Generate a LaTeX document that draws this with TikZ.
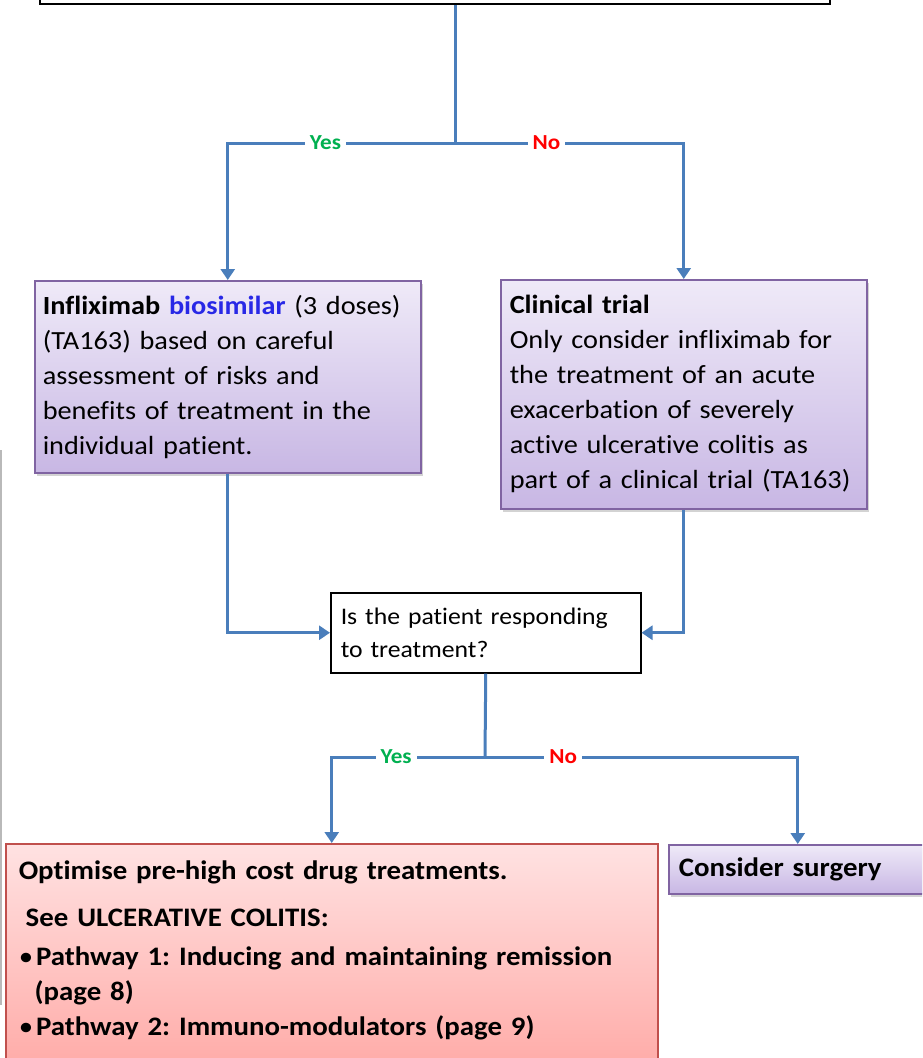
\documentclass[tikz,border=0pt]{standalone}
\usepackage{fontspec}
\setmainfont{Carlito}[FakeStretch=1.08, Ligatures=NoCommon]
\usepackage{tikz}
\usetikzlibrary{arrows.meta,shadows}

\definecolor{flowblue}{RGB}{74,126,187}
\definecolor{lilacline}{RGB}{128,100,162}
\definecolor{lilactop}{RGB}{239,234,248}
\definecolor{lilacbot}{RGB}{200,183,228}
\definecolor{roseline}{RGB}{192,80,77}
\definecolor{rosetop}{RGB}{255,226,226}
\definecolor{rosebot}{RGB}{255,160,156}
\definecolor{yesgreen}{RGB}{0,176,80}
\definecolor{biosim}{RGB}{40,40,230}

\begin{document}
\frenchspacing
\begin{tikzpicture}[x=1pt, y=-1pt,
	every node/.style={font=\fontsize{26.2}{35}\selectfont, align=left},
	>={Triangle[length=11pt, width=14pt]},
	flow/.style={flowblue, line width=3pt},
	lilac/.style={draw=lilacline, line width=1.5pt, top color=lilactop, bottom color=lilacbot,
		drop shadow={opacity=0.35, shadow xshift=2pt, shadow yshift=-3pt}},
	rose/.style={draw=roseline, line width=1.5pt, top color=rosetop, bottom color=rosebot},
	plain/.style={draw=black, line width=2pt, fill=white},
	yeslab/.style={fill=white, text=yesgreen, inner xsep=5pt, inner ysep=1pt, font=\fontsize{21.4}{21.4}\selectfont\bfseries},
	nolab/.style={yeslab, text=red}]
	\path[use as bounding box, clip] (0,0) rectangle (922,1058);
	\draw[gray!55, line width=1.2pt] (1,450) -- (1,1005);
	% boxes
	\node[plain, anchor=south, minimum width=790, minimum height=60] (eligible) at (435,5) {};
	\node[lilac, anchor=north west, minimum height=192, text width=370, inner xsep=8] (infl) at (34,280)
		{\textbf{Infliximab} \textbf{\textcolor{biosim}{biosimilar}} (3 doses)\\
		(TA163) based on careful\\
		assessment of risks and\\
		benefits of treatment in the\\
		individual patient.};
	\node[lilac, anchor=north west, minimum height=229, text width=348, inner xsep=9] (trial) at (500,279)
		{\textbf{Clinical trial}\\
		Only consider infliximab for\\
		the treatment of an acute\\
		exacerbation of severely\\
		active ulcerative colitis as\\
		part of a clinical trial (TA163)};
	\node[plain, line width=1.5pt, anchor=north west, minimum height=80, text width=290, inner xsep=10,
		font=\fontsize{23.8}{33}\selectfont] (response) at (330,592)
		{Is the patient responding\\
		to treatment?};
	\node[rose, anchor=north west, text width=626, inner xsep=13, inner ysep=17,
		font=\fontsize{26.7}{35}\selectfont\bfseries] (optimise) at (5,843)
		{Optimise pre-high cost drug treatments.\\[12pt]
		\hspace*{7pt}See ULCERATIVE COLITIS:\\[4pt]
		{\mdseries\textbullet}\hspace{3pt}Pathway 1: Inducing and maintaining remission\\
		\hspace*{16pt}(page 8)\\
		{\mdseries\textbullet}\hspace{3pt}Pathway 2: Immuno-modulators (page 9)\rule[-60pt]{0pt}{1pt}};
	\node[lilac, anchor=north west, minimum height=49, text width=238, inner xsep=10,
		font=\fontsize{26.7}{30}\selectfont\bfseries] (surgery) at (668,844) {Consider surgery};
	% connectors
	\coordinate (split1) at (455,143);
	\coordinate (split2) at (485,757);
	\draw[flow] (eligible.south -| split1) -- (split1);
	\draw[flow, ->] (split1) -- node[yeslab, pos=0.57] {Yes} (split1 -| infl.north) -- (infl.north);
	\draw[flow, ->] (split1) -- node[nolab, pos=0.4] {No} (split1 -| trial.north) -- (trial.north);
	\draw[flow, ->] (infl.south) |- (response.west);
	\draw[flow, ->] (trial.south) |- (response.east);
	\draw[flow] (response.south) -- (split2);
	\draw[flow, ->] (split2) -- node[yeslab, pos=0.58] {Yes} (split2 -| optimise.north) -- (optimise.north);
	\draw[flow, ->] (split2) -- node[nolab, pos=0.25] {No} (split2 -| surgery.north) -- (surgery.north);
\end{tikzpicture}
\end{document}
